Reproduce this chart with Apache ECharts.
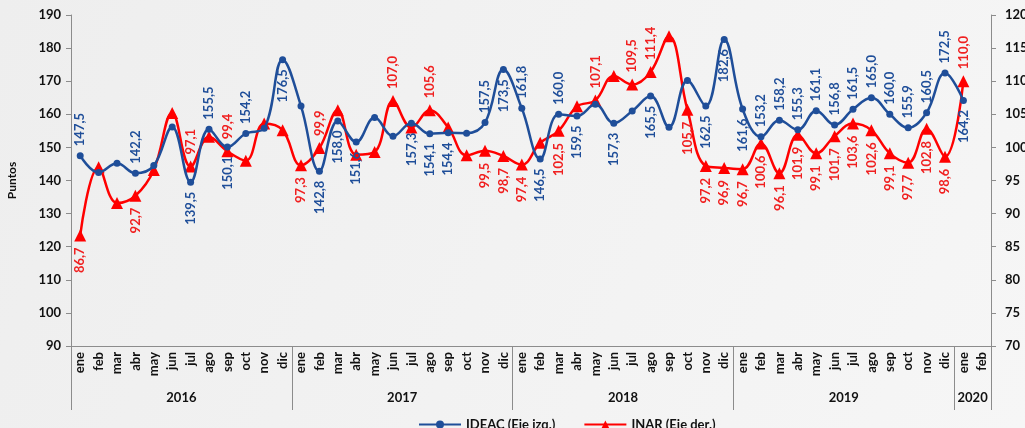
<!DOCTYPE html>
<html>
<head>
<meta charset="utf-8">
<script src="https://cdn.jsdelivr.net/npm/echarts@6/dist/echarts.min.js"></script>
<style>
  html, body { margin: 0; padding: 0; }
  #chart { width: 1025px; height: 428px; }
</style>
</head>
<body>
<div id="chart"></div>
<script>
// meses y años del eje
const meses = ['ene', 'feb', 'mar', 'abr', 'may', 'jun', 'jul', 'ago', 'sep', 'oct', 'nov', 'dic']
const anios = ['2016', '2017', '2018', '2019', '2020']
const mesesPorAnio = [12, 12, 12, 12, 2]

// IDEAC (eje izq.)
const ideac = [
  147.5, 142.4, 145.2, 142.2, 144.5, 156.2, 139.5, 155.5, 150.1, 154.2, 155.8, 176.5,
  162.5, 142.8, 158.0, 151.6, 159.0, 153.4, 157.3, 154.1, 154.4, 154.3, 157.5, 173.5,
  161.8, 146.5, 160.0, 159.5, 163.0, 157.3, 161.0, 165.5, 156.1, 170.2, 162.5, 182.6,
  161.6, 153.2, 158.2, 155.3, 161.1, 156.8, 161.5, 165.0, 160.0, 155.9, 160.5, 172.5,
  164.2
]
// INAR (eje der.)
const inar = [
  86.7, 97.0, 91.6, 92.7, 96.6, 105.2, 97.1, 101.6, 99.4, 98.0, 103.6, 102.6,
  97.3, 99.9, 105.6, 98.9, 99.3, 107.0, 103.0, 105.6, 103.0, 98.8, 99.5, 98.7,
  97.4, 100.7, 102.5, 106.2, 107.1, 110.8, 109.5, 111.4, 116.8, 105.7, 97.2, 96.9,
  96.7, 100.6, 96.1, 101.9, 99.1, 101.7, 103.6, 102.6, 99.1, 97.7, 102.8, 98.6,
  110.0
]

// etiqueta arriba (t), abajo (b) o sin etiqueta ('')
const ideacEtiq = [
  't', '', '', 't', '', '', 'b', 't', 'b', 't', '', 'b',
  '', 'b', 'b', 'b', '', '', 'b', 'b', 'b', '', 't', 'b',
  't', 'b', 't', 'b', '', 'b', '', 'b', '', '', 'b', 'b',
  'b', 't', 't', 't', 't', 't', 't', 't', 't', 't', 't', 't',
  'b'
]
const inarEtiq = [
  'b', '', '', 'b', '', '', 't', '', 't', '', '', '',
  'b', 't', '', '', '', 't', '', 't', '', '', 'b', 'b',
  'b', '', 'b', '', 't', '', 't', 't', '', 'b', 'b', 'b',
  'b', 'b', 'b', 'b', 'b', 'b', 'b', 'b', 'b', 'b', 'b', 'b',
  't'
]

const azul = '#1f4e99'
const rojo = '#ff0000'
const fuente = 'Lato'

// categorias del eje x
let categorias = []
let inicios = []
anios.forEach((a, k) => {
  inicios.push(categorias.length)
  for (let m = 0; m < mesesPorAnio[k]; m++) categorias.push(meses[m])
})
const total = categorias.length
const limites = inicios.concat([total])
const centros = anios.map((a, k) => (limites[k] + limites[k + 1]) / 2)

function etiqueta(lado, color) {
  if (!lado) return { show: false }
  return {
    show: true,
    position: lado === 't' ? 'top' : 'bottom',
    distance: 6,
    rotate: 90,
    align: lado === 't' ? 'left' : 'right',
    verticalAlign: 'middle',
    color: color,
    fontFamily: fuente,
    fontWeight: 'bold',
    fontSize: 13,
    formatter: (p) => p.value.toFixed(1).replace('.', ','),
  }
}

const ejeGris = { show: true, lineStyle: { color: '#8c8c8c', width: 1 } }
const textoEje = { color: '#111', fontFamily: fuente, fontWeight: 'bold', fontSize: 13 }

let option = {
  backgroundColor: {
    type: 'linear', x: 0, y: 0, x2: 1, y2: 1,
    colorStops: [{ offset: 0, color: '#eeeeee' }, { offset: 1, color: '#f6f6f6' }],
  },
  animation: false,
  grid: { left: 71, right: 34, top: 15, bottom: 82, outerBoundsMode: 'none' },
  legend: {
    left: 413,
    top: 413,
    itemWidth: 42,
    itemHeight: 10,
    itemGap: 28,
    textStyle: { color: '#111', fontFamily: fuente, fontWeight: 'bold', fontSize: 13 },
    data: ['IDEAC (Eje izq.)', 'INAR (Eje der.)'],
  },
  xAxis: [
    {
      type: 'category',
      data: categorias,
      boundaryGap: true,
      axisLine: ejeGris,
      axisTick: { show: false },
      axisLabel: Object.assign({ rotate: 90, interval: 0, margin: 6 }, textoEje),
      splitLine: { show: false },
    },
    {
      type: 'value',
      min: 0,
      max: total,
      position: 'bottom',
      axisLine: { show: false },
      axisTick: {
        show: true,
        customValues: limites,
        length: 64,
        lineStyle: { color: '#8c8c8c', width: 1 },
      },
      axisLabel: Object.assign({
        customValues: centros,
        margin: 45,
        formatter: (v) => anios[centros.indexOf(v)] || '',
      }, textoEje),
      splitLine: { show: false },
    },
  ],
  yAxis: [
    {
      type: 'value',
      min: 90,
      max: 190,
      interval: 10,
      name: 'Puntos',
      nameLocation: 'middle',
      nameGap: 53,
      nameTextStyle: { color: '#111', fontFamily: fuente, fontWeight: 'bold', fontSize: 12 },
      axisLine: ejeGris,
      axisTick: { show: true, length: 5, lineStyle: { color: '#8c8c8c' } },
      axisLabel: Object.assign({ margin: 10 }, textoEje),
      splitLine: { show: false },
    },
    {
      type: 'value',
      min: 70,
      max: 120,
      interval: 5,
      position: 'right',
      axisLine: ejeGris,
      axisTick: { show: true, length: 5, lineStyle: { color: '#8c8c8c' } },
      axisLabel: Object.assign({ margin: 14 }, textoEje),
      splitLine: { show: false },
    },
  ],
  series: [
    {
      name: 'IDEAC (Eje izq.)',
      type: 'line',
      yAxisIndex: 0,
      smooth: 0.4,
      symbol: 'circle',
      symbolSize: 7,
      color: azul,
      lineStyle: { color: azul, width: 2.5 },
      itemStyle: { color: azul },
      labelLayout: { hideOverlap: false },
      data: ideac.map((v, i) => ({ value: v, label: etiqueta(ideacEtiq[i], azul) })),
      z: 3,
    },
    {
      name: 'INAR (Eje der.)',
      type: 'line',
      yAxisIndex: 1,
      smooth: 0.4,
      symbol: 'triangle',
      symbolSize: 12,
      color: rojo,
      lineStyle: { color: rojo, width: 2.5 },
      itemStyle: { color: rojo },
      labelLayout: { hideOverlap: false },
      data: inar.map((v, i) => ({ value: v, label: etiqueta(inarEtiq[i], '#f02020') })),
      z: 2,
    },
  ],
}

let mychart = echarts.init(document.getElementById('chart'))
mychart.setOption(option)
</script>
</body>
</html>
